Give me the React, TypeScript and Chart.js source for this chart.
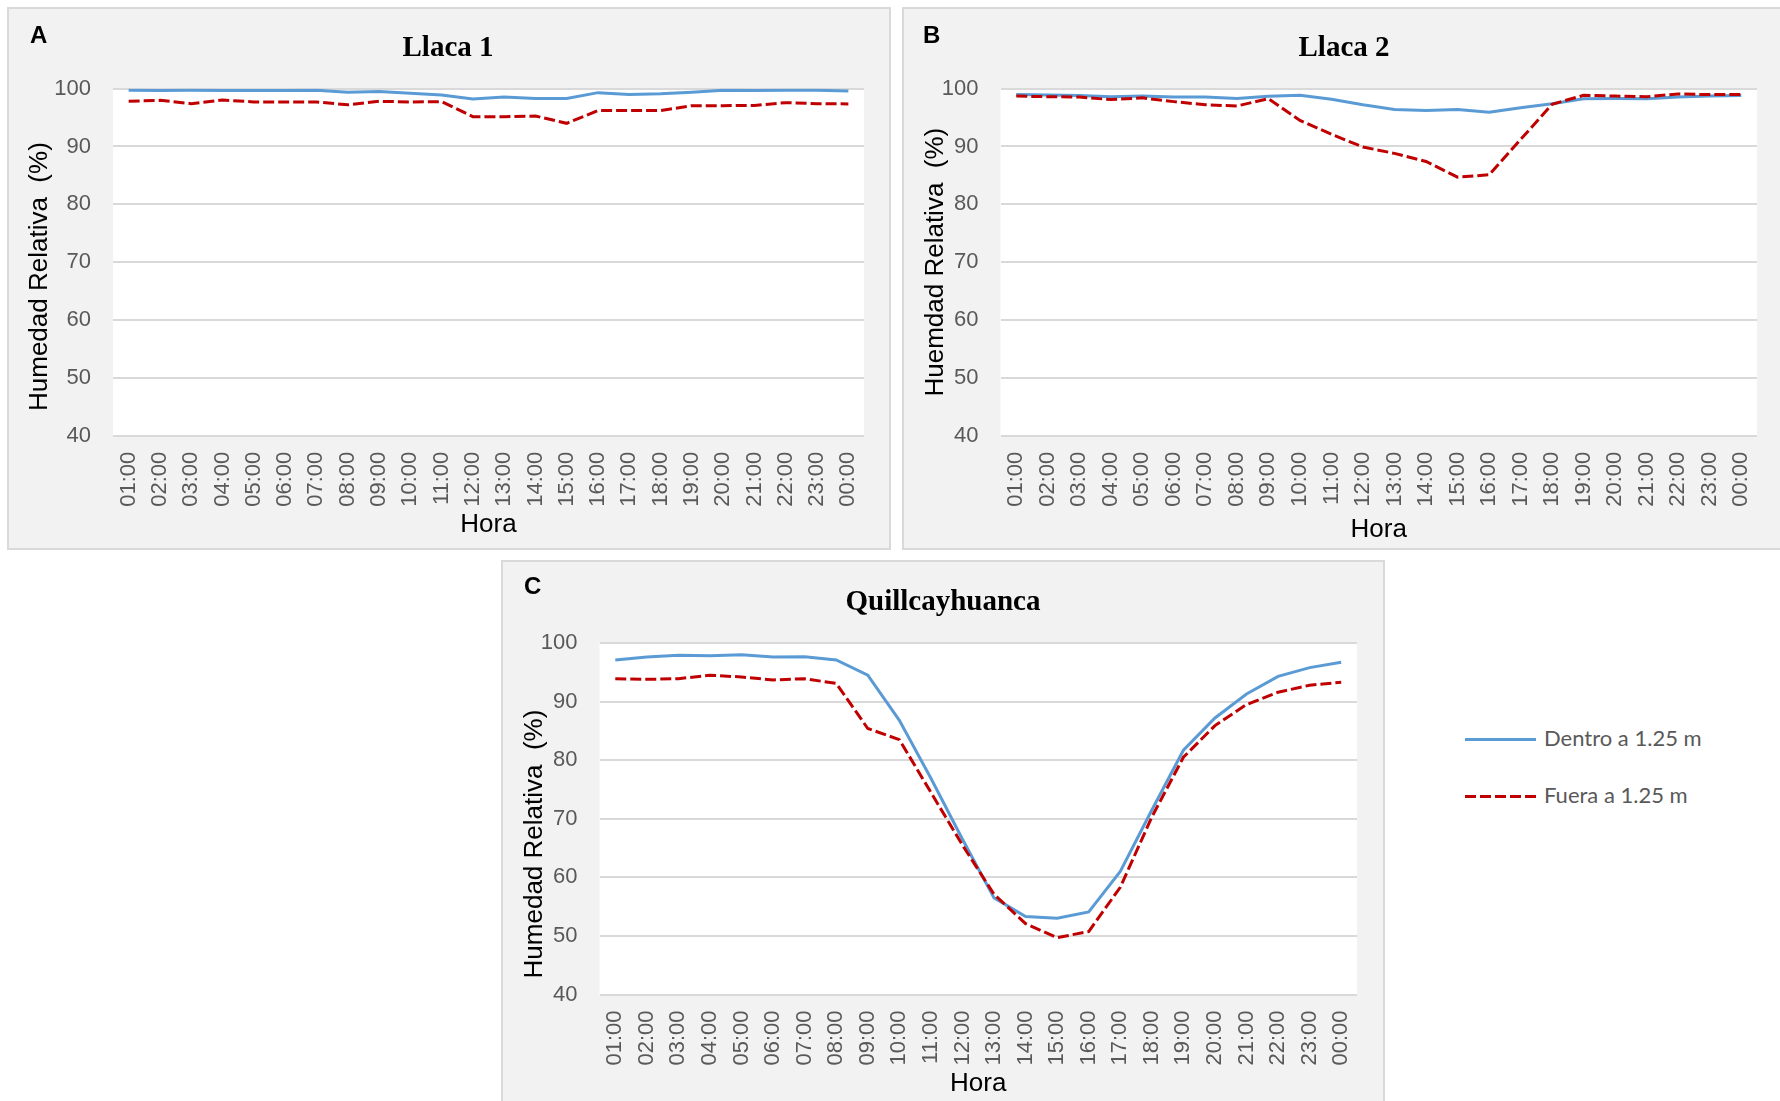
import React, { useEffect, useRef } from 'react';
import { Chart, registerables } from 'chart.js';

Chart.register(...registerables);

const HOURS = [
  '01:00', '02:00', '03:00', '04:00', '05:00', '06:00', '07:00', '08:00',
  '09:00', '10:00', '11:00', '12:00', '13:00', '14:00', '15:00', '16:00',
  '17:00', '18:00', '19:00', '20:00', '21:00', '22:00', '23:00', '00:00',
];

const SERIES_NAMES = ['Dentro a 1.25 m', 'Fuera a 1.25 m'];

const LLACA1_DENTRO = [99.7, 99.65, 99.7, 99.65, 99.65, 99.65, 99.7, 99.35, 99.5, 99.2, 98.9, 98.2,
  98.55, 98.3, 98.3, 99.3, 99.0, 99.1, 99.35, 99.7, 99.65, 99.7, 99.7, 99.6];
const LLACA1_FUERA = [97.8, 97.97, 97.4, 98.03, 97.7, 97.7, 97.7, 97.2, 97.8, 97.7, 97.75, 95.15,
  95.15, 95.26, 94.0, 96.2, 96.2, 96.2, 97.05, 97.05, 97.1, 97.57, 97.4, 97.35];

const LLACA2_DENTRO = [99.0, 98.9, 98.8, 98.6, 98.7, 98.55, 98.55, 98.3, 98.67, 98.84, 98.15, 97.2,
  96.4, 96.2, 96.4, 95.9, 96.7, 97.4, 98.26, 98.3, 98.26, 98.55, 98.7, 98.8];
const LLACA2_FUERA = [98.7, 98.6, 98.55, 98.1, 98.4, 97.75, 97.2, 97.0, 98.26, 94.5, 92.1, 89.9,
  88.8, 87.4, 84.7, 85.1, 91.2, 97.3, 98.84, 98.7, 98.6, 99.07, 98.96, 98.96];

const QUILL_DENTRO = [97.1, 97.6, 97.9, 97.84, 98.0, 97.6, 97.66, 97.1, 94.5, 86.8, 76.9, 66.5,
  56.5, 53.3, 53.0, 54.1, 61.0, 71.5, 81.7, 87.2, 91.3, 94.3, 95.8, 96.7];
const QUILL_FUERA = [93.9, 93.8, 93.9, 94.5, 94.2, 93.7, 93.9, 93.1, 85.4, 83.5, 74.5, 65.5,
  57.1, 52.1, 49.7, 50.75, 58.3, 70.3, 80.5, 85.9, 89.5, 91.6, 92.8, 93.3];

const Y_MIN = 40;
const Y_MAX = 100;
const Y_STEP = 10;

const BLUE = '#5B9BD5';
const RED = '#C00000';
const GRID = '#D9D9D9';
const TICK_TEXT = '#595959';

const SANS = '"Liberation Sans", Arial, sans-serif';
const SERIF = '"Liberation Serif", "Times New Roman", serif';

const chartAreaBg = {
  id: 'chartAreaBg',
  beforeDraw(chart: any) {
    const { ctx, chartArea } = chart;
    if (!chartArea) return;
    ctx.save();
    ctx.fillStyle = '#FFFFFF';
    ctx.fillRect(chartArea.left, chartArea.top, chartArea.right - chartArea.left, chartArea.bottom - chartArea.top);
    ctx.restore();
  },
};

const panelLetter = {
  id: 'panelLetter',
  afterDraw(chart: any, _args: any, opts: any) {
    if (!opts || !opts.text) return;
    const ctx = chart.ctx;
    ctx.save();
    ctx.font = `bold ${opts.size}px ${SANS}`;
    ctx.fillStyle = '#000';
    ctx.textBaseline = 'alphabetic';
    ctx.textAlign = 'left';
    ctx.fillText(opts.text, opts.x, opts.y);
    ctx.restore();
  },
};

type PanelProps = {
  left: number; top: number; width: number; height: number;
  cw: number; ch: number;
  title: string; letter: string; letterX: number; letterY: number;
  yTitle: string;
  dentro: number[]; fuera: number[];
  yWidth: number; xHeight: number; leftPad: number; rightPad: number;
  titleTop: number; titleBottom: number;
  yTitlePad: number; xTitlePad: number;
};

function Panel(p: PanelProps) {
  const ref = useRef<HTMLCanvasElement | null>(null);
  useEffect(() => {
    if (!ref.current) return;
    const chart = new Chart(ref.current, {
      type: 'line',
      data: {
        labels: HOURS,
        datasets: [
          {
            label: SERIES_NAMES[0],
            data: p.dentro,
            borderColor: BLUE,
            backgroundColor: BLUE,
            borderWidth: 3,
            pointRadius: 0,
            tension: 0,
            order: 1,
          },
          {
            label: SERIES_NAMES[1],
            data: p.fuera,
            borderColor: RED,
            backgroundColor: RED,
            borderWidth: 3,
            borderDash: [11, 4],
            pointRadius: 0,
            tension: 0,
            order: 0,
          },
        ],
      },
      options: {
        responsive: false,
        devicePixelRatio: 1,
        animation: false,
        layout: { padding: { left: p.leftPad, top: 0, bottom: 0, right: p.rightPad } },
        plugins: {
          legend: { display: false },
          tooltip: { enabled: false },
          title: {
            display: true,
            text: p.title,
            color: '#000',
            font: { family: SERIF, size: 29, weight: 'bold', lineHeight: 1.2 },
            padding: { top: p.titleTop, bottom: p.titleBottom },
          },
          panelLetter: { text: p.letter, x: p.letterX, y: p.letterY, size: 24 },
        } as any,
        scales: {
          x: {
            type: 'category',
            offset: true,
            grid: { display: false },
            border: { display: false },
            ticks: {
              autoSkip: false,
              minRotation: 90,
              maxRotation: 90,
              padding: 8,
              color: TICK_TEXT,
              font: { family: SANS, size: 22 },
            },
            title: {
              display: true,
              text: 'Hora',
              color: '#000',
              font: { family: SANS, size: 26, lineHeight: 1.2 },
              padding: { top: 0, bottom: p.xTitlePad },
            },
            afterFit: (scale: any) => { scale.height = p.xHeight; },
          },
          y: {
            min: Y_MIN,
            max: Y_MAX,
            ticks: {
              stepSize: Y_STEP,
              padding: 22,
              color: TICK_TEXT,
              font: { family: SANS, size: 22 },
            },
            grid: { color: GRID, lineWidth: 2, drawTicks: false },
            border: { display: false },
            title: {
              display: true,
              text: p.yTitle,
              color: '#000',
              font: { family: SANS, size: 26, lineHeight: 1.2 },
              padding: { top: p.yTitlePad, bottom: 0 },
            },
            afterFit: (scale: any) => { scale.width = p.yWidth; },
          },
        },
      } as any,
      plugins: [chartAreaBg, panelLetter],
    });
    return () => chart.destroy();
  }, []);

  return (
    <div
      style={{
        position: 'absolute',
        left: p.left,
        top: p.top,
        width: p.width,
        height: p.height,
        background: '#F2F2F2',
        border: `2px solid ${GRID}`,
        boxSizing: 'border-box',
      }}
    >
      <canvas ref={ref} width={p.cw} height={p.ch} style={{ display: 'block', width: p.cw, height: p.ch }} />
    </div>
  );
}

export default function App() {
  const legendText: React.CSSProperties = {
    position: 'absolute',
    left: 1544,
    font: `22px Lato, "Open Sans", sans-serif`,
    color: TICK_TEXT,
    lineHeight: '24px',
    whiteSpace: 'nowrap',
  };
  return (
    <div style={{ position: 'fixed', left: 0, top: 0, width: 1780, height: 1101, overflow: 'hidden', background: '#fff' }}>
      <Panel
        left={7} top={7} width={884} height={543} cw={880} ch={539}
        title="Llaca 1" letter="A" letterX={21} letterY={34}
        yTitle={'Humedad Relativa  (%)    '}
        dentro={LLACA1_DENTRO} fuera={LLACA1_FUERA}
        yWidth={81} xHeight={112.3} leftPad={23} rightPad={25}
        titleTop={22} titleBottom={22.8}
        yTitlePad={-7.6} xTitlePad={7.1}
      />
      <Panel
        left={902} top={7} width={880} height={543} cw={876} ch={539}
        title="Llaca 2" letter="B" letterX={19} letterY={34}
        yTitle={'Huemdad Relativa  (%)'}
        dentro={LLACA2_DENTRO} fuera={LLACA2_FUERA}
        yWidth={69.5} xHeight={112.3} leftPad={27} rightPad={23}
        titleTop={22} titleBottom={22.8}
        yTitlePad={-10.6} xTitlePad={2.1}
      />
      <Panel
        left={501} top={560} width={884} height={543} cw={880} ch={539}
        title="Quillcayhuanca" letter="C" letterX={21} letterY={32}
        yTitle={'Humedad Relativa  (%)       '}
        dentro={QUILL_DENTRO} fuera={QUILL_FUERA}
        yWidth={70.5} xHeight={106.5} leftPad={26} rightPad={26}
        titleTop={23} titleBottom={23.2}
        yTitlePad={-9.6} xTitlePad={1.1}
      />
      <div style={{ position: 'absolute', left: 1465, top: 738, width: 71, height: 3, background: BLUE }} />
      <div style={{ ...legendText, top: 726 }}>{SERIES_NAMES[0]}</div>
      <div
        style={{
          position: 'absolute', left: 1465, top: 795, width: 71, height: 3,
          background: `repeating-linear-gradient(to right, ${RED} 0px, ${RED} 11px, transparent 11px, transparent 15px)`,
        }}
      />
      <div style={{ ...legendText, top: 783 }}>{SERIES_NAMES[1]}</div>
    </div>
  );
}
